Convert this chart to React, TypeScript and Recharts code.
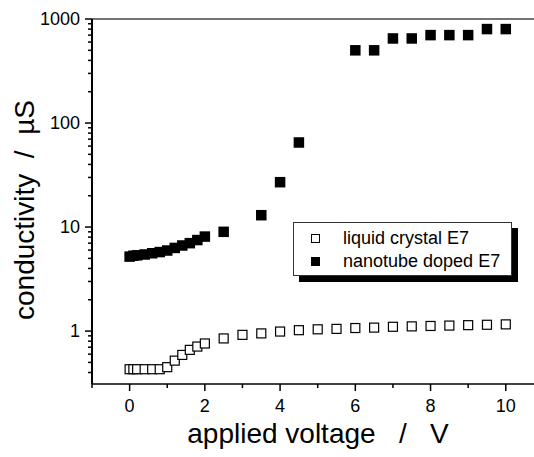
import React from 'react';
import { ScatterChart, Scatter, XAxis, YAxis, ReferenceLine, Legend } from 'recharts';

const FONT = '"Liberation Sans", Arial, sans-serif';

// liquid crystal E7 (open squares)
const lcVoltage = [0, 0.1, 0.2, 0.4, 0.6, 0.8, 1.0, 1.2, 1.4, 1.6, 1.8, 2.0, 2.5, 3, 3.5, 4, 4.5, 5, 5.5, 6, 6.5, 7, 7.5, 8, 8.5, 9, 9.5, 10];
const lcConductivity = [0.43, 0.43, 0.43, 0.43, 0.43, 0.43, 0.45, 0.52, 0.59, 0.66, 0.71, 0.76, 0.85, 0.92, 0.95, 0.99, 1.02, 1.04, 1.05, 1.07, 1.08, 1.10, 1.11, 1.12, 1.13, 1.14, 1.15, 1.16];

// nanotube doped E7 (filled squares)
const ntVoltage = [0, 0.1, 0.2, 0.4, 0.6, 0.8, 1.0, 1.2, 1.4, 1.6, 1.8, 2.0, 2.5, 3.5, 4, 4.5, 6, 6.5, 7, 7.5, 8, 8.5, 9, 9.5, 10];
const ntConductivity = [5.2, 5.3, 5.35, 5.45, 5.6, 5.75, 5.95, 6.3, 6.65, 7.0, 7.5, 8.1, 9.0, 13.0, 27, 65, 500, 500, 650, 650, 700, 700, 700, 800, 800];

const xTicks = [-1, 0, 1, 2, 3, 4, 5, 6, 7, 8, 9, 10];
const yMajorTicks = [1, 10, 100, 1000];
const yTicks = [0.4, 0.5, 0.6, 0.7, 0.8, 0.9, 1, 2, 3, 4, 5, 6, 7, 8, 9, 10, 20, 30, 40, 50, 60, 70, 80, 90, 100, 200, 300, 400, 500, 600, 700, 800, 900, 1000];

const seriesNames = ['liquid crystal E7', 'nanotube doped E7'];

const lcData = lcVoltage.map((v, i) => ({ x: v, y: lcConductivity[i] }));
const ntData = ntVoltage.map((v, i) => ({ x: v, y: ntConductivity[i] }));

const XTick = (props: any) => {
  const { x, y, payload } = props;
  const v = payload.value;
  const major = v % 2 === 0;
  return (
    <g>
      <line x1={x} x2={x} y1={y} y2={y + (major ? 7 : 4)} stroke="#000" strokeWidth={1.5} />
      {major && (
        <text x={x} y={y + 28} textAnchor="middle" fontSize={18} fontFamily={FONT} fill="#000">
          {v}
        </text>
      )}
    </g>
  );
};

const YTick = (props: any) => {
  const { x, y, payload } = props;
  const v = payload.value;
  const major = yMajorTicks.includes(v);
  return (
    <g>
      <line x1={x} x2={x - (major ? 7 : 4)} y1={y} y2={y} stroke="#000" strokeWidth={1.5} />
      {major && (
        <text x={x - 12} y={y} dy="0.35em" textAnchor="end" fontSize={18} fontFamily={FONT} fill="#000">
          {v}
        </text>
      )}
    </g>
  );
};

const OpenSquare = (props: any) => {
  const { cx, cy } = props;
  const s = 9;
  return <rect x={cx - s / 2} y={cy - s / 2} width={s} height={s} fill="#fff" stroke="#000" strokeWidth={1.2} />;
};

const FilledSquare = (props: any) => {
  const { cx, cy } = props;
  const s = 10.5;
  return <rect x={cx - s / 2} y={cy - s / 2} width={s} height={s} fill="#000" stroke="none" />;
};

const LegendBox = () => (
  <div
    style={{
      position: 'relative',
      width: 219,
      height: 54,
      border: '1px solid #333',
      background: '#fff',
      boxShadow: '6px 6px 0 #000',
      boxSizing: 'border-box',
      fontFamily: FONT,
      fontSize: 18,
      color: '#000',
    }}
  >
    {seriesNames.map((name, i) => (
      <div key={name} style={{ position: 'absolute', left: 0, top: 4 + i * 23.3, height: 23, width: '100%' }}>
        <div
          style={{
            position: 'absolute',
            left: 17,
            top: 7,
            width: 9,
            height: 9,
            boxSizing: 'border-box',
            border: '1.2px solid #000',
            background: i === 0 ? '#fff' : '#000',
          }}
        />
        <div style={{ position: 'absolute', left: 49, top: 0, lineHeight: '23px', whiteSpace: 'nowrap' }}>{name}</div>
      </div>
    ))}
  </div>
);

export default function App() {
  return (
    <div style={{ position: 'fixed', left: 0, top: 0, width: 534, height: 457, background: '#fff' }}>
      <ScatterChart width={534} height={457} margin={{ top: 19, right: 0, left: 32, bottom: 0 }}>
        <XAxis
          type="number"
          dataKey="x"
          domain={[-1, 10.75]}
          allowDataOverflow
          ticks={xTicks}
          interval={0}
          tick={<XTick />}
          tickLine={false}
          tickSize={0}
          tickMargin={0}
          height={73}
          axisLine={{ stroke: '#000', strokeWidth: 1.5 }}
          label={{
            content: () => (
              <text x={318} y={443} textAnchor="middle" fontSize={28} fontFamily={FONT} fill="#000" style={{ whiteSpace: 'pre' }}>
                {'applied voltage   /   V'}
              </text>
            ),
          }}
        />
        <YAxis
          type="number"
          dataKey="y"
          scale="log"
          domain={[0.31, 1000]}
          allowDataOverflow
          ticks={yTicks}
          interval={0}
          tick={<YTick />}
          tickLine={false}
          tickSize={0}
          tickMargin={0}
          width={60}
          axisLine={{ stroke: '#000', strokeWidth: 2 }}
          label={{
            content: () => (
              <text
                x={34}
                y={210}
                transform="rotate(-90 34 210)"
                textAnchor="middle"
                fontSize={28}
                fontFamily={FONT}
                fill="#000"
                style={{ whiteSpace: 'pre' }}
              >
                {'conductivity  /  \u00b5S'}
              </text>
            ),
          }}
        />
        <ReferenceLine y={1000} stroke="#444" strokeWidth={1.5} ifOverflow="visible" />
        <Legend
          layout="horizontal"
          verticalAlign="middle"
          align="center"
          content={() => <LegendBox />}
          wrapperStyle={{ position: 'absolute', left: 293, top: 222, width: 'auto', height: 'auto' }}
        />
        <Scatter name={seriesNames[0]} data={lcData} shape={<OpenSquare />} isAnimationActive={false} />
        <Scatter name={seriesNames[1]} data={ntData} shape={<FilledSquare />} isAnimationActive={false} />
      </ScatterChart>
    </div>
  );
}
